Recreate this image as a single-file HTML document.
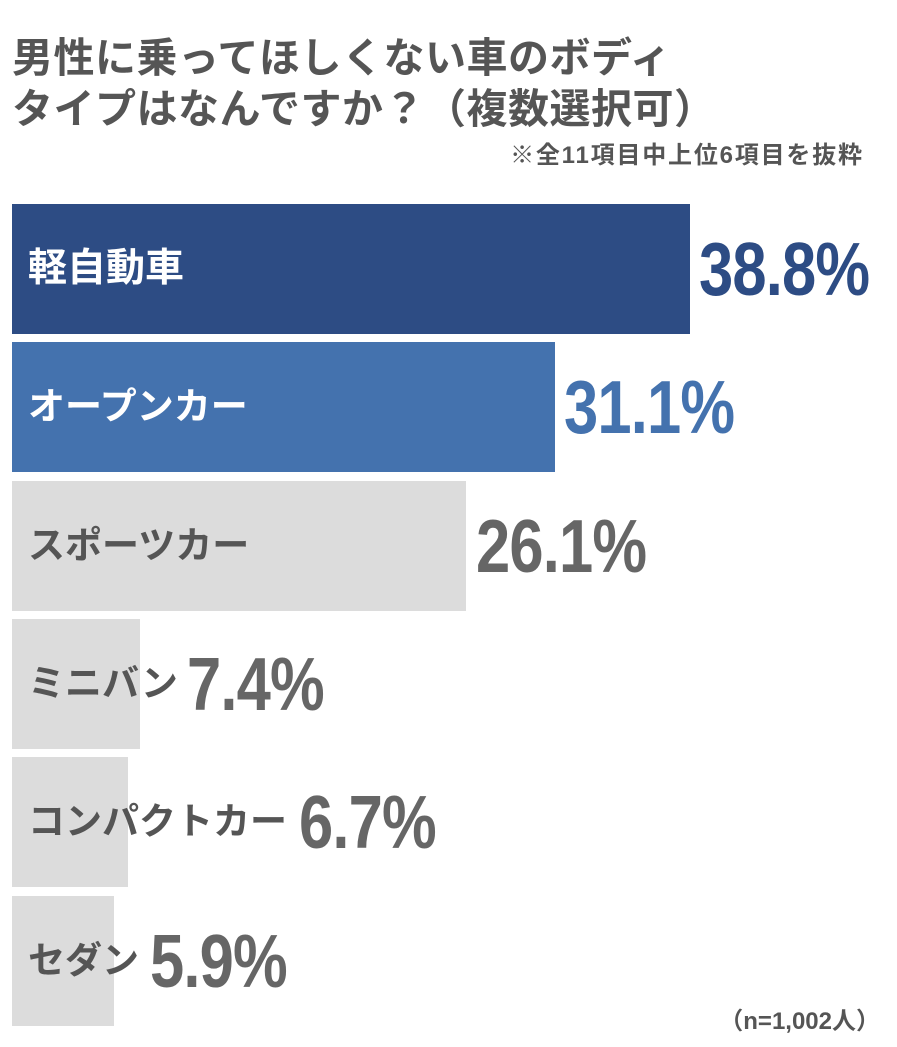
<!DOCTYPE html>
<html><head><meta charset="utf-8"><style>
body{margin:0;width:897px;height:1047px;background:#fff;position:relative;overflow:hidden;font-family:"Liberation Sans","Noto Sans CJK JP",sans-serif;font-weight:bold;color:#555}
div{position:absolute;white-space:nowrap}
.t{left:12px;font-size:41px;line-height:48px;color:#555;letter-spacing:0.5px}
.bar{left:12px;height:130px}
.lab{font-size:37px;line-height:130px;left:28px}
.pct{font-size:75px;line-height:130px;transform:scaleX(0.82);transform-origin:left center;letter-spacing:-1px}
</style></head><body>
<div class="t" style="top:34px">男性に乗ってほしくない車のボディ</div>
<div class="t" style="top:85px">タイプはなんですか？（複数選択可）</div>
<div style="right:35px;top:141px;font-size:24px;line-height:30px;color:#555;letter-spacing:1.8px;margin-right:-1.8px">※全11項目中上位6項目を抜粋</div>

<div class="bar" style="top:204px;width:678px;background:#2d4c84"></div>
<div class="lab" style="top:204px;color:#fff;font-size:39px">軽自動車</div>
<div class="pct" style="top:204px;left:699px;color:#2d4c84">38.8%</div>

<div class="bar" style="top:342px;width:543px;background:#4472ae"></div>
<div class="lab" style="top:342px;color:#fff">オープンカー</div>
<div class="pct" style="top:342px;left:564px;color:#4472ae">31.1%</div>

<div class="bar" style="top:481px;width:454px;background:#dcdcdc"></div>
<div class="lab" style="top:481px">スポーツカー</div>
<div class="pct" style="top:481px;left:476px;color:#666">26.1%</div>

<div class="bar" style="top:619px;width:128px;background:#dcdcdc"></div>
<div class="lab" style="top:619px">ミニバン</div>
<div class="pct" style="top:619px;left:187px;color:#666">7.4%</div>

<div class="bar" style="top:757px;width:116px;background:#dcdcdc"></div>
<div class="lab" style="top:757px">コンパクトカー</div>
<div class="pct" style="top:757px;left:299px;color:#666">6.7%</div>

<div class="bar" style="top:896px;width:102px;background:#dcdcdc"></div>
<div class="lab" style="top:896px">セダン</div>
<div class="pct" style="top:896px;left:150px;color:#666">5.9%</div>

<div style="right:17px;top:1006px;font-size:24px;line-height:32px;color:#555">（n=1,002人）</div>
</body></html>
